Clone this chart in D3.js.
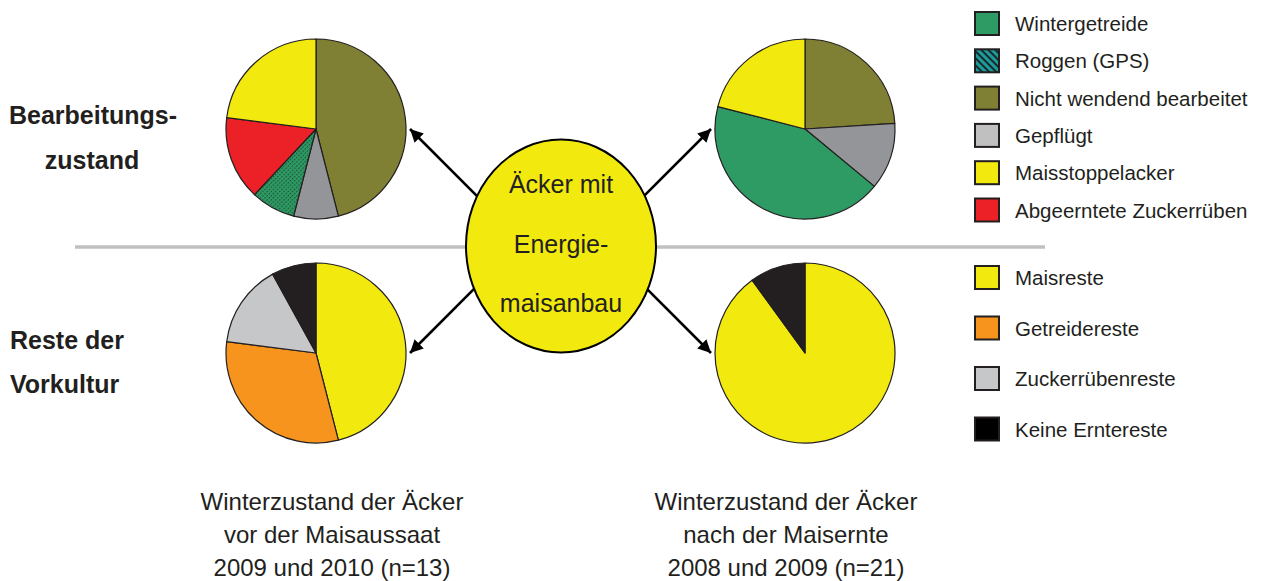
<!DOCTYPE html>
<html><head><meta charset="utf-8">
<script src="https://cdn.jsdelivr.net/npm/d3@7/dist/d3.min.js"></script>
<style>body{margin:0;background:#fff}svg{display:block;font-family:"Liberation Sans",Arial,sans-serif}</style>
</head><body><svg id="c" width="1263" height="581"></svg>
<script>
// Legend categories
const tillageCategories = ["Wintergetreide","Roggen (GPS)","Nicht wendend bearbeitet","Gepflügt","Maisstoppelacker","Abgeerntete Zuckerrüben"];
const residueCategories = ["Maisreste","Getreidereste","Zuckerrübenreste","Keine Erntereste"];
// Pie values (percent, clockwise from 12 o'clock)
const tillageBeforeCats = ["Nicht wendend bearbeitet","Gepflügt","Roggen (GPS)","Abgeerntete Zuckerrüben","Maisstoppelacker"];
const tillageBeforeVals = [46, 8, 8, 15, 23];
const tillageAfterCats = ["Nicht wendend bearbeitet","Gepflügt","Wintergetreide","Maisstoppelacker"];
const tillageAfterVals = [24, 12, 43, 21];
const residueBeforeCats = ["Maisreste","Getreidereste","Zuckerrübenreste","Keine Erntereste"];
const residueBeforeVals = [46, 31, 15, 8];
const residueAfterCats = ["Maisreste","Keine Erntereste"];
const residueAfterVals = [90, 10];
const rowLabels = [["Bearbeitungs-","zustand"],["Reste der","Vorkultur"]];
const captionBefore = ["Winterzustand der Äcker","vor der Maisaussaat","2009 und 2010 (n=13)"];
const captionAfter = ["Winterzustand der Äcker","nach der Maisernte","2008 und 2009 (n=21)"];
const centerLabel = ["Äcker mit","Energie-","maisanbau"];

const pieColor = {
  "Wintergetreide":"#2e9b65","Roggen (GPS)":"url(#roggenPie)","Nicht wendend bearbeitet":"#808035",
  "Gepflügt":"#939598","Maisstoppelacker":"#f2e90f","Abgeerntete Zuckerrüben":"#ec2027",
  "Maisreste":"#f2e90f","Getreidereste":"#f7941d","Zuckerrübenreste":"#c6c7c9","Keine Erntereste":"#231f20"
};
const legendColor = Object.assign({}, pieColor, {"Roggen (GPS)":"url(#roggenLeg)","Gepflügt":"#c0c0c0","Keine Erntereste":"#000"});
const ink = "#231f20";

const svg = d3.select("#c");
const defs = svg.append("defs");
const p1 = defs.append("pattern").attr("id","roggenPie").attr("patternUnits","userSpaceOnUse").attr("width",3).attr("height",3).attr("patternTransform","rotate(45)");
p1.append("rect").attr("width",3).attr("height",3).attr("fill","#2e9b65");
p1.append("rect").attr("width",1.2).attr("height",1.5).attr("fill","#1b4d2e");
const p2 = defs.append("pattern").attr("id","roggenLeg").attr("patternUnits","userSpaceOnUse").attr("width",5).attr("height",5).attr("patternTransform","rotate(45)");
p2.append("rect").attr("width",5).attr("height",5).attr("fill","#1d9b9b");
p2.append("rect").attr("width",5).attr("height",2).attr("fill","#1a2a2a");
defs.append("marker").attr("id","arr").attr("viewBox","0 0 10 10").attr("refX",10).attr("refY",5)
  .attr("markerWidth",5).attr("markerHeight",5).attr("orient","auto").attr("markerUnits","strokeWidth")
  .append("path").attr("d","M0,0 L10,5 L0,10 z").attr("fill","#000");

const R = 90;
const colX = d3.scalePoint().domain(["before","after"]).range([316,805]);
const rowY = d3.scalePoint().domain(["tillage","residue"]).range([129,353]);

svg.append("line").attr("x1",75).attr("x2",1045).attr("y1",247).attr("y2",247).attr("stroke","#c0c0c0").attr("stroke-width",3.5);

const pieGen = d3.pie().sort(null).value(d=>d.v);
const arcGen = d3.arc().innerRadius(0).outerRadius(R);
function drawPie(col,row,cats,vals){
  const data = cats.map((c,i)=>({c, v:vals[i]}));
  const g = svg.append("g").attr("transform",`translate(${colX(col)},${rowY(row)})`);
  g.selectAll("path").data(pieGen(data)).join("path").attr("d",arcGen)
    .attr("fill",d=>pieColor[d.data.c]).attr("stroke",ink).attr("stroke-width",1.2).attr("stroke-linejoin","round");
}
drawPie("before","tillage",tillageBeforeCats,tillageBeforeVals);
drawPie("after","tillage",tillageAfterCats,tillageAfterVals);
drawPie("before","residue",residueBeforeCats,residueBeforeVals);
drawPie("after","residue",residueAfterCats,residueAfterVals);

const ec = {x:561, y:246, rx:95, ry:106.5};
const arrows = [["before","tillage",1],["after","tillage",-1],["before","residue",1],["after","residue",-1]];
arrows.forEach(([col,row,side])=>{
  const ex = colX(col) + side*(R+4), ey = rowY(row);
  const dx = side, dy = (ey < ec.y) ? 1 : -1;
  const ax = ex-ec.x, ay = ey-ec.y;
  const A = 1/(ec.rx*ec.rx)+1/(ec.ry*ec.ry);
  const B = 2*(ax*dx/(ec.rx*ec.rx)+ay*dy/(ec.ry*ec.ry));
  const C = ax*ax/(ec.rx*ec.rx)+ay*ay/(ec.ry*ec.ry)-1;
  const t = (-B - Math.sqrt(B*B-4*A*C))/(2*A);
  svg.append("line").attr("x1",ex+t*dx).attr("y1",ey+t*dy).attr("x2",ex).attr("y2",ey)
    .attr("stroke","#000").attr("stroke-width",2.6).attr("marker-end","url(#arr)");
});
svg.append("ellipse").attr("cx",ec.x).attr("cy",ec.y).attr("rx",ec.rx).attr("ry",ec.ry)
  .attr("fill","#f2e90f").attr("stroke","#000").attr("stroke-width",2);
svg.append("g").selectAll("text").data(centerLabel).join("text")
  .attr("x",ec.x).attr("y",(d,i)=>193+i*59.5).attr("text-anchor","middle")
  .attr("font-size",25).attr("fill",ink).text(d=>d);

const rl = svg.append("g").attr("font-weight","bold").attr("font-size",25).attr("fill",ink);
rl.append("text").attr("x",93).attr("y",124).attr("text-anchor","middle").text(rowLabels[0][0]);
rl.append("text").attr("x",92).attr("y",169).attr("text-anchor","middle").text(rowLabels[0][1]);
rl.append("text").attr("x",10).attr("y",349).text(rowLabels[1][0]);
rl.append("text").attr("x",10).attr("y",393).text(rowLabels[1][1]);

[[captionBefore,332],[captionAfter,786]].forEach(([lines,x])=>{
  svg.append("g").selectAll("text").data(lines).join("text")
    .attr("x",x).attr("y",(d,i)=>510+i*33).attr("text-anchor","middle")
    .attr("font-size",24).attr("fill",ink).text(d=>d);
});

function legend(cats,y0,step){
  const g = svg.append("g").attr("transform",`translate(975,${y0})`);
  const it = g.selectAll("g").data(cats).join("g").attr("transform",(d,i)=>`translate(0,${i*step})`);
  it.append("rect").attr("width",24).attr("height",23).attr("fill",d=>legendColor[d]).attr("stroke",ink).attr("stroke-width",2);
  it.append("text").attr("x",40).attr("y",19).attr("font-size",20.5).attr("fill",ink).text(d=>d);
}
legend(tillageCategories,12,37.3);
legend(residueCategories,266,50.5);
</script></body></html>
